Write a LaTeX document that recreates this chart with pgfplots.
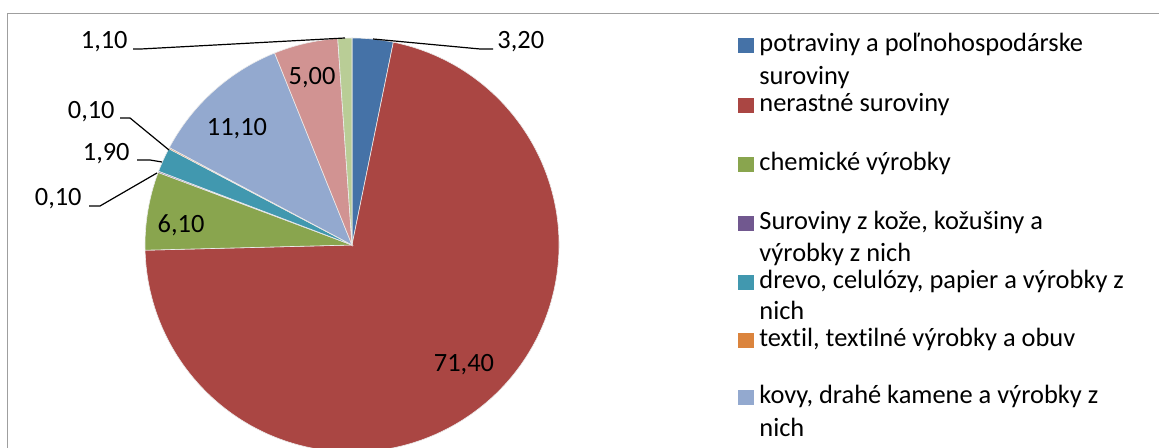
\documentclass[border=0pt]{standalone}
\usepackage{pgfplots}
\pgfplotsset{compat=1.18}
\usepackage{pgfplotstable}
\usepackage{fontspec}
\setmainfont{Carlito}[Ligatures=NoCommon]

\definecolor{s1}{HTML}{4572A7}
\definecolor{s2}{HTML}{AA4643}
\definecolor{s3}{HTML}{89A54E}
\definecolor{s4}{HTML}{71588F}
\definecolor{s5}{HTML}{4198AF}
\definecolor{s6}{HTML}{DB843D}
\definecolor{s7}{HTML}{93A9CF}
\definecolor{s8}{HTML}{D19392}
\definecolor{s9}{HTML}{B9CD96}

% share of each group, clockwise from 12 o'clock
\pgfplotstableread[col sep=comma]{
value,col
3.20,s1
71.40,s2
6.10,s3
0.10,s4
1.90,s5
0.10,s6
11.10,s7
5.00,s8
1.10,s9
}\piedata

% start/end angles of the slices
\xdef\cum{0}
\foreach \i in {0,...,8}{
  \pgfplotstablegetelem{\i}{value}\of\piedata
  \pgfmathsetmacro\a{90-3.6*\cum}
  \pgfmathsetmacro\newcum{\cum+\pgfplotsretval}
  \pgfmathsetmacro\b{90-3.6*\newcum}
  \expandafter\xdef\csname sa\i\endcsname{\a}
  \expandafter\xdef\csname ea\i\endcsname{\b}
  \pgfplotstablegetelem{\i}{col}\of\piedata
  \expandafter\xdef\csname cc\i\endcsname{\pgfplotsretval}
  \xdef\cum{\newcum}
}

\begin{document}
\begin{tikzpicture}[font=\fontsize{13.2}{16}\selectfont]
\clip (0,0) rectangle (579.5pt,224pt);
\begin{axis}[
  x=0.5pt, y=0.5pt,
  xmin=0, xmax=1159, ymin=0, ymax=448,
  hide axis, clip=false,
  at={(0,0)}, anchor=origin,
]
% frame
\draw[gray!75, line width=0.75pt] (axis cs:7.5,-10) -- (axis cs:7.5,434.5) -- (axis cs:1170,434.5);

% slices
\pgfplotsinvokeforeach{0,...,8}{
  \fill[\csname cc#1\endcsname, draw=white!85!gray, line width=0.3pt]
    (axis cs:352,203) -- ++(\csname sa#1\endcsname:103.5pt)
    arc[start angle=\csname sa#1\endcsname, end angle=\csname ea#1\endcsname, radius=103.5pt] -- cycle;
}

% labels inside
\node at (axis cs:312,370) {5,00};
\node at (axis cs:237,319) {11,10};
\node at (axis cs:181,223) {6,10};
\node at (axis cs:464,83) {71,40};

% labels outside with leader lines
\draw[line width=0.6pt] (axis cs:373,409) -- (axis cs:480,399) -- (axis cs:493,399);
\node[anchor=west, inner sep=1pt] at (axis cs:495,406) {3,20};
\draw[line width=0.6pt] (axis cs:133,399) -- (axis cs:141,399) -- (axis cs:345,410);
\node[anchor=east, inner sep=1pt] at (axis cs:130,406) {1,10};
\draw[line width=0.6pt] (axis cs:120,330) -- (axis cs:130,330) -- (axis cs:169,298);
\node[anchor=east, inner sep=1pt] at (axis cs:117,336) {0,10};
\draw[line width=0.6pt] (axis cs:137,288) -- (axis cs:150,288) -- (axis cs:162,286);
\node[anchor=east, inner sep=1pt] at (axis cs:132,294) {1,90};
\draw[line width=0.6pt] (axis cs:89,242) -- (axis cs:100,242) -- (axis cs:157,275);
\node[anchor=east, inner sep=1pt] at (axis cs:84,249) {0,10};

% legend
\fill[s1] (axis cs:738,395) rectangle (axis cs:754,410);
\node[anchor=base west, inner sep=0pt] at (axis cs:759,396) {potraviny a poľnohospodárske};
\node[anchor=base west, inner sep=0pt] at (axis cs:759,363) {suroviny};
\fill[s2] (axis cs:738,335) rectangle (axis cs:754,350);
\node[anchor=base west, inner sep=0pt] at (axis cs:759,336) {nerastné suroviny};
\fill[s3] (axis cs:738,276) rectangle (axis cs:754,291);
\node[anchor=base west, inner sep=0pt] at (axis cs:759,277) {chemické výrobky};
\fill[s4] (axis cs:738,217) rectangle (axis cs:754,232);
\node[anchor=base west, inner sep=0pt] at (axis cs:759,218) {Suroviny z kože, kožušiny a};
\node[anchor=base west, inner sep=0pt] at (axis cs:759,186) {výrobky z nich};
\fill[s5] (axis cs:738,158) rectangle (axis cs:754,173);
\node[anchor=base west, inner sep=0pt] at (axis cs:759,159) {drevo, celulózy, papier a výrobky z};
\node[anchor=base west, inner sep=0pt] at (axis cs:759,128) {nich};
\fill[s6] (axis cs:738,100) rectangle (axis cs:754,115);
\node[anchor=base west, inner sep=0pt] at (axis cs:759,101) {textil, textilné výrobky a obuv};
\fill[s7] (axis cs:738,43) rectangle (axis cs:754,58);
\node[anchor=base west, inner sep=0pt] at (axis cs:759,44) {kovy, drahé kamene a výrobky z};
\node[anchor=base west, inner sep=0pt] at (axis cs:759,11) {nich};
\end{axis}
\end{tikzpicture}
\end{document}
